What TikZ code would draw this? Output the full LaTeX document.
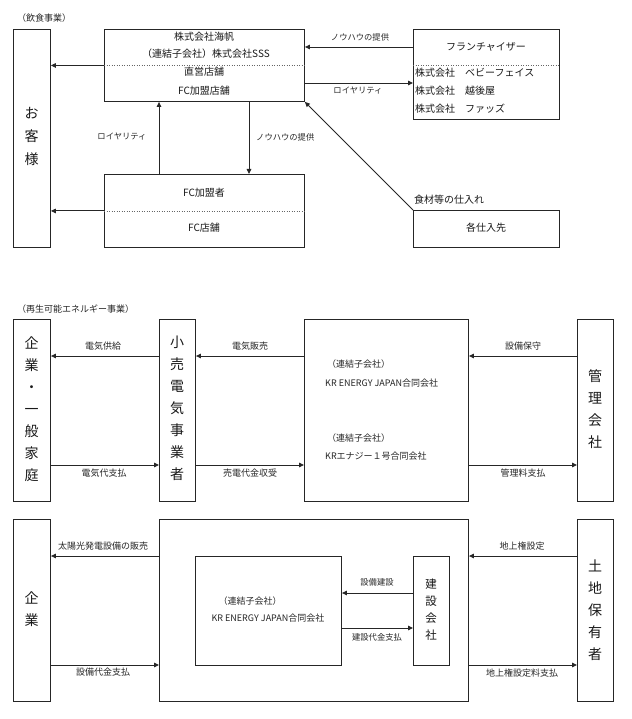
\documentclass[tikz,border=0pt]{standalone}
\usepackage{fontspec}
\setmainfont{Noto Sans CJK JP}
\usetikzlibrary{arrows.meta,calc}
\begin{document}
\begin{tikzpicture}[x=1pt,y=-1pt,
 box/.style={draw=black!85, line width=0.9pt, inner sep=0pt, anchor=north west},
 arr/.style={draw=black!85, line width=0.9pt, -{Triangle[length=5pt,width=4.5pt]}},
 sep/.style={draw=black!60, line width=0.5pt, dotted},
 lbl/.style={inner sep=0pt, text=black!85, font=\fontsize{8.3}{10}\selectfont},
 lblb/.style={inner sep=0pt, text=black!85, font=\fontsize{9}{11}\selectfont},
 txt/.style={inner sep=0pt, text=black!90, font=\fontsize{10}{12}\selectfont},
 vert/.style={inner sep=0pt, align=center, text=black!90, font=\fontsize{14}{22}\selectfont},
]
\useasboundingbox[fill=white] (0,0) rectangle (631,719);

% ---------------- Section 1 ----------------
\node[lblb, anchor=west] (t1) at (17,18) {（飲食事業）};
\node[box, minimum width=37pt, minimum height=218pt] (cust) at (13,29) {};
\node[box, minimum width=200pt, minimum height=72pt] (main) at (104,29) {};
\node[box, minimum width=146pt, minimum height=90pt] (fr) at (413,29) {};
\node[box, minimum width=200pt, minimum height=73pt] (fc) at (104,174) {};
\node[box, minimum width=146pt, minimum height=37pt] (sup) at (413,210) {};

\node[vert, font=\fontsize{14}{23}\selectfont] (custt) at (31.5,136) {お\\客\\様};

\node[txt] (m1) at (204,37) {株式会社海帆};
\node[txt] (m2) at (206,54) {（連結子会社）株式会社SSS};
\node[txt] (m3) at (204,72) {直営店舗};
\node[txt] (m4) at (204,91) {FC加盟店舗};
\draw[sep] (main.west) -- (main.east);

\node[txt] (f0) at (486,47) {フランチャイザー};
\node[txt, anchor=west] (f1) at (415,73) {株式会社　ベビーフェイス};
\node[txt, anchor=west] (f2) at (415,91) {株式会社　越後屋};
\node[txt, anchor=west] (f3) at (415,109) {株式会社　ファッズ};
\coordinate (fs) at (0,65);
\draw[sep] (fr.west |- fs) -- (fr.east |- fs);

\node[txt] (fc1) at (204,193) {FC加盟者};
\node[txt] (fc2) at (204,228) {FC店舗};
\draw[sep] (fc.west) -- (fc.east);

\node[txt] (s1) at (486,228) {各仕入先};
\node[txt, anchor=west] (s0) at (414,200) {食材等の仕入れ};

\draw[arr] (main.west) -- (main.west -| cust.east);
\draw[arr] (fc.west) -- (fc.west -| cust.east);
\coordinate (k1) at (0,47);
\coordinate (k2) at (0,83);
\draw[arr] (fr.west |- k1) -- (main.east |- k1);
\draw[arr] (main.east |- k2) -- (fr.west |- k2);
\node[lbl] (l1) at (360,37) {ノウハウの提供};
\node[lbl] (l2) at (358,91) {ロイヤリティ};
\coordinate (v1) at (159,0);
\coordinate (v2) at (249,0);
\draw[arr] (fc.north -| v1) -- (main.south -| v1);
\draw[arr] (main.south -| v2) -- (fc.north -| v2);
\node[lbl] (l3) at (122,137) {ロイヤリティ};
\node[lbl, anchor=west] (l4) at (256,137) {ノウハウの提供};
\draw[arr] (sup.north west) -- (main.south east);

% ---------------- Section 2 ----------------
\node[lblb, anchor=west] (t2) at (17,309) {（再生可能エネルギー事業）};
\node[box, minimum width=37pt, minimum height=182pt] (home) at (13,319) {};
\node[box, minimum width=36pt, minimum height=182pt] (retail) at (159,319) {};
\node[box, minimum width=164pt, minimum height=182pt] (kr) at (304,319) {};
\node[box, minimum width=36pt, minimum height=182pt] (mgmt) at (577,319) {};

\node[vert] (homet) at (31.5,409.5) {企\\業\\・\\一\\般\\家\\庭};
\node[vert] (retailt) at (177,408) {小\\売\\電\\気\\事\\業\\者};
\node[vert] (mgmtt) at (595,409) {管\\理\\会\\社};

\node[lblb, anchor=west] (kr1) at (327,364) {（連結子会社）};
\node[lblb, anchor=west] (kr2) at (325,383) {KR ENERGY JAPAN合同会社};
\node[lblb, anchor=west] (kr3) at (327,438) {（連結子会社）};
\node[lblb, anchor=west] (kr4) at (325,456) {KRエナジー１号合同会社};

\coordinate (a1) at (0,356);
\coordinate (a2) at (0,465);
\draw[arr] (retail.west |- a1) -- (home.east |- a1);
\draw[arr] (kr.west |- a1) -- (retail.east |- a1);
\draw[arr] (mgmt.west |- a1) -- (kr.east |- a1);
\draw[arr] (home.east |- a2) -- (retail.west |- a2);
\draw[arr] (retail.east |- a2) -- (kr.west |- a2);
\draw[arr] (kr.east |- a2) -- (mgmt.west |- a2);
\node[lblb] (e1) at (103,346) {電気供給};
\node[lblb] (e2) at (250,346) {電気販売};
\node[lblb] (e3) at (523,346) {設備保守};
\node[lblb] (e4) at (104,473) {電気代支払};
\node[lblb] (e5) at (250,473) {売電代金収受};
\node[lblb] (e6) at (523,473) {管理料支払};

% ---------------- Section 3 ----------------
\node[box, minimum width=37pt, minimum height=182pt] (corp) at (13,519) {};
\node[box, minimum width=309pt, minimum height=182pt] (big) at (159,519) {};
\node[box, minimum width=146pt, minimum height=109pt] (krin) at (195,556) {};
\node[box, minimum width=36pt, minimum height=109pt] (cons) at (413,556) {};
\node[box, minimum width=36pt, minimum height=182pt] (land) at (577,519) {};

\node[vert] (corpt) at (31.5,609) {企\\業};
\node[vert, font=\fontsize{11.5}{17}\selectfont] (const) at (431,610) {建\\設\\会\\社};
\node[vert] (landt) at (595,610) {土\\地\\保\\有\\者};

\node[lblb] (ki1) at (250,601) {（連結子会社）};
\node[lblb] (ki2) at (268,618) {KR ENERGY JAPAN合同会社};

\coordinate (b1) at (0,556);
\coordinate (b2) at (0,665);
\coordinate (c1) at (0,593);
\coordinate (c2) at (0,628);
\draw[arr] (big.west |- b1) -- (corp.east |- b1);
\draw[arr] (corp.east |- b2) -- (big.west |- b2);
\draw[arr] (land.west |- b1) -- (big.east |- b1);
\draw[arr] (big.east |- b2) -- (land.west |- b2);
\draw[arr] (cons.west |- c1) -- (krin.east |- c1);
\draw[arr] (krin.east |- c2) -- (cons.west |- c2);
\node[lblb] (g1) at (103,546) {太陽光発電設備の販売};
\node[lblb] (g2) at (103,672) {設備代金支払};
\node[lblb] (g3) at (522,546) {地上権設定};
\node[lblb] (g4) at (522,673) {地上権設定料支払};
\node[lbl] (g5) at (377,582) {設備建設};
\node[lbl] (g6) at (377,637) {建設代金支払};
\end{tikzpicture}
\end{document}
